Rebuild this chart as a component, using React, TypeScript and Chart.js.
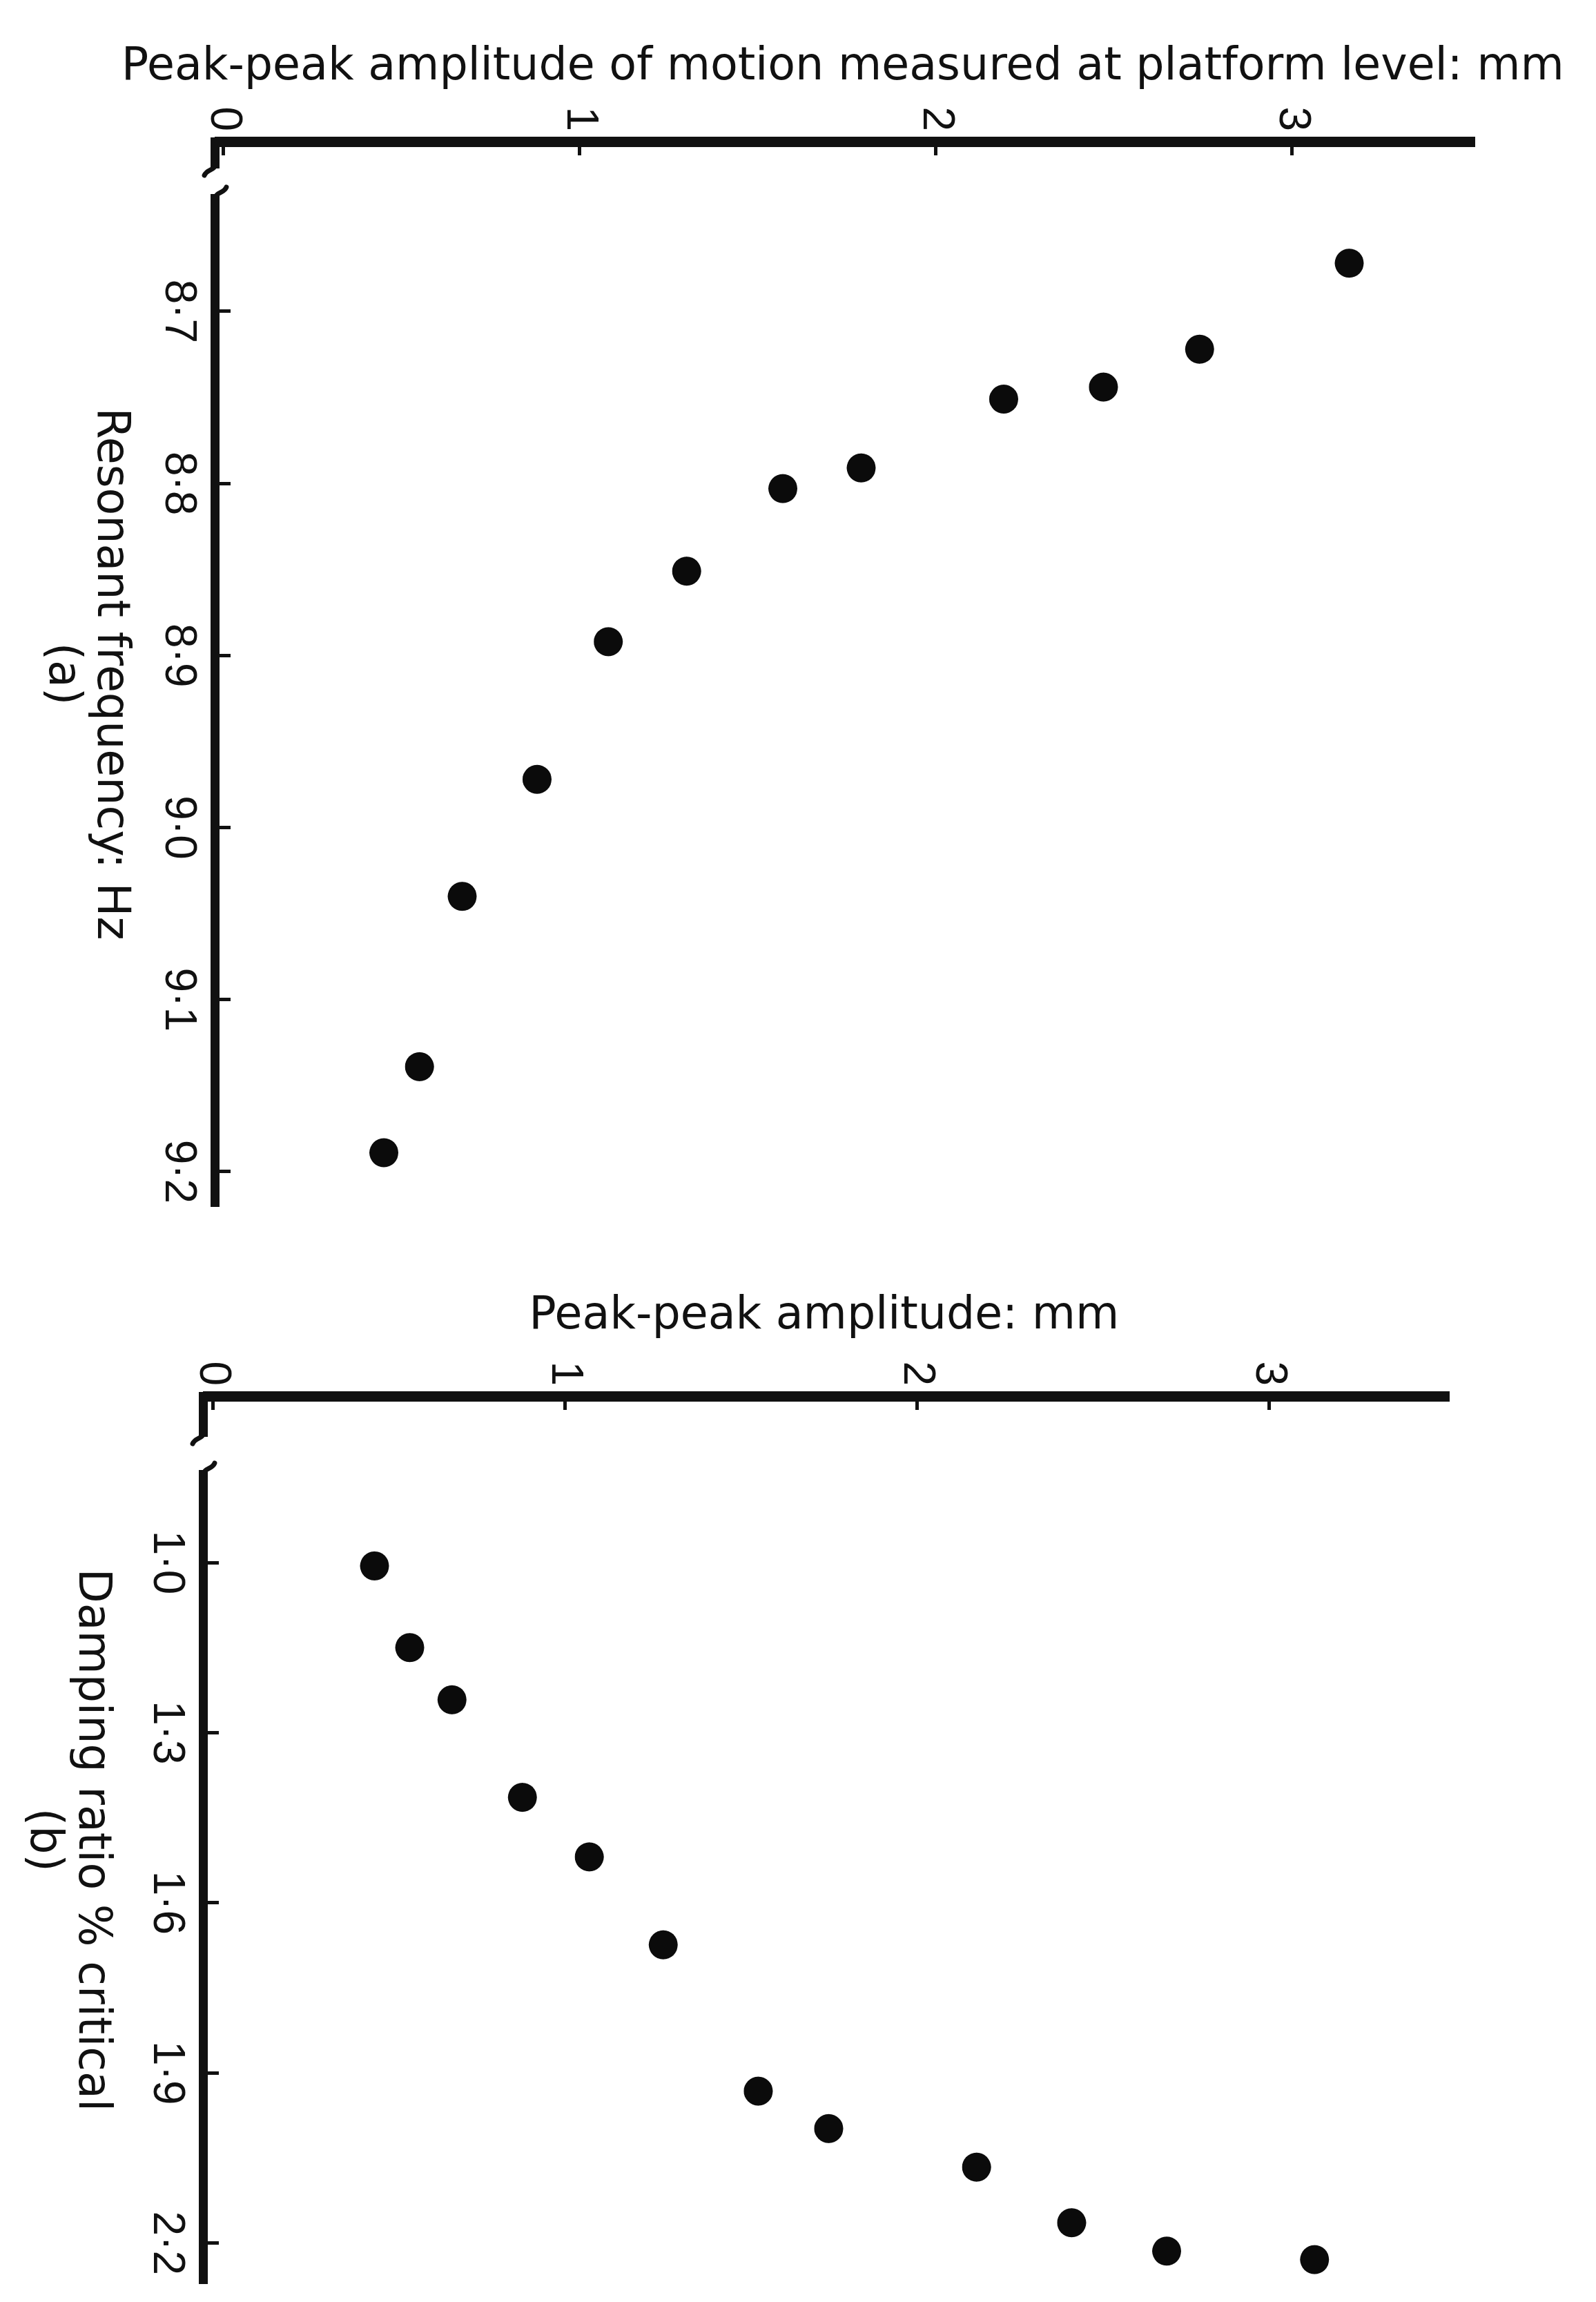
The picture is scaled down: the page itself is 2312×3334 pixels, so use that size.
import React, { useEffect, useRef } from 'react';
import { Chart, registerables } from 'chart.js';

Chart.register(...registerables);

// ---------- Panel (a): resonant frequency vs peak-peak amplitude ----------
const amplitudeA = [3.16, 2.74, 2.47, 2.19, 1.79, 1.57, 1.3, 1.08, 0.88, 0.67, 0.55, 0.45];
const frequencyA = [8.672, 8.722, 8.744, 8.751, 8.791, 8.803, 8.851, 8.892, 8.972, 9.04, 9.139, 9.189];
const freqTicks = [8.7, 8.8, 8.9, 9.0, 9.1, 9.2];
const freqTickLabels = ['8·7', '8·8', '8·9', '9·0', '9·1', '9·2'];

// ---------- Panel (b): damping ratio vs peak-peak amplitude ----------
const amplitudeB = [0.46, 0.56, 0.68, 0.88, 1.07, 1.28, 1.55, 1.75, 2.17, 2.44, 2.71, 3.13];
const dampingB = [1.006, 1.15, 1.242, 1.414, 1.519, 1.674, 1.932, 1.998, 2.066, 2.164, 2.214, 2.229];
const dampTicks = [1.0, 1.3, 1.6, 1.9, 2.2];
const dampTickLabels = ['1·0', '1·3', '1·6', '1·9', '2·2'];

// shared amplitude axis ticks
const ampTicks = [0, 1, 2, 3];
const ampTickLabels = ['0', '1', '2', '3'];

const titleA = 'Peak-peak amplitude of motion measured at platform level: mm';
const freqTitle = ['Resonant frequency: Hz', '(a)'];
const titleB = 'Peak-peak amplitude: mm';
const dampTitle = ['Damping ratio % critical', '(b)'];

const INK = '#111111';
const TITLE_FONT = "'DejaVu Sans', 'Liberation Sans', sans-serif";
const TICK_FONT = "'Liberation Sans', Arial, sans-serif";

function breakPlugin(gapStart: number, gapEnd: number) {
  return {
    id: 'axisBreak',
    afterDraw(chart: any) {
      const { ctx, chartArea } = chart;
      const y = chartArea.bottom;
      const x1 = chartArea.left + gapStart;
      const x2 = chartArea.left + gapEnd;
      ctx.save();
      ctx.fillStyle = '#ffffff';
      ctx.fillRect(x1 - 6, y - 12, x2 - x1 + 12, 24);
      ctx.strokeStyle = INK;
      ctx.lineWidth = 7;
      ctx.lineCap = 'round';
      ctx.beginPath();
      ctx.moveTo(x1 - 14, y);
      ctx.bezierCurveTo(x1 - 2, y, x1 - 6, y + 12, x1 + 4, y + 16);
      ctx.stroke();
      ctx.beginPath();
      ctx.moveTo(x2 + 14, y);
      ctx.bezierCurveTo(x2 + 2, y, x2 + 6, y - 12, x2 - 4, y - 16);
      ctx.stroke();
      ctx.restore();
    },
  };
}

type PanelOpts = {
  xs: number[];
  ys: number[];
  xMin: number;
  xMax: number;
  xTicks: number[];
  xTickLabels: string[];
  xTitle: string[];
  xTitlePad: number;
  yMin: number;
  yMax: number;
  yTitle: string;
  yTitlePad: number;
  yWidth: number;
  xHeight: number;
  padTop: number;
  padRight: number;
  gap: [number, number];
};

function buildConfig(p: PanelOpts): any {
  return {
    type: 'scatter',
    data: {
      datasets: [
        {
          data: p.xs.map((x, i) => ({ x, y: p.ys[i] })),
          backgroundColor: '#0b0b0b',
          borderWidth: 0,
          pointRadius: 21,
          pointHoverRadius: 21,
        },
      ],
    },
    options: {
      animation: false,
      responsive: false,
      devicePixelRatio: 1,
      events: [],
      layout: { padding: { left: 0, right: p.padRight, top: p.padTop, bottom: 0 } },
      plugins: { legend: { display: false }, tooltip: { enabled: false } },
      scales: {
        x: {
          type: 'linear',
          position: 'bottom',
          min: p.xMin,
          max: p.xMax,
          afterBuildTicks: (s: any) => {
            s.ticks = p.xTicks.map((v) => ({ value: v }));
          },
          afterFit: (s: any) => {
            s.height = p.xHeight;
          },
          ticks: {
            callback: (_v: any, i: number) => p.xTickLabels[i],
            autoSkip: false,
            maxRotation: 0,
            minRotation: 0,
            padding: 38,
            color: INK,
            font: { family: TICK_FONT, size: 64 },
          },
          grid: { drawOnChartArea: false, drawTicks: true, tickLength: -22, tickWidth: 5, color: INK },
          border: { display: true, width: 13, color: INK },
          title: {
            display: true,
            text: p.xTitle,
            color: INK,
            font: { family: TITLE_FONT, size: 65, lineHeight: 1.08 },
            padding: { top: 0, bottom: p.xTitlePad },
          },
        },
        y: {
          type: 'linear',
          position: 'left',
          min: p.yMin,
          max: p.yMax,
          afterBuildTicks: (s: any) => {
            s.ticks = ampTicks.map((v) => ({ value: v }));
          },
          afterFit: (s: any) => {
            s.width = p.yWidth;
          },
          ticks: {
            callback: (_v: any, i: number) => ampTickLabels[i],
            padding: 35,
            color: INK,
            font: { family: TICK_FONT, size: 64 },
          },
          grid: { drawOnChartArea: false, drawTicks: true, tickLength: -20, tickWidth: 5, color: INK },
          border: { display: true, width: 15, color: INK },
          title: {
            display: true,
            text: p.yTitle,
            color: INK,
            font: { family: TITLE_FONT, size: 65 },
            padding: { top: p.yTitlePad, bottom: 0 },
          },
        },
      },
    },
    plugins: [breakPlugin(p.gap[0], p.gap[1])],
  };
}

function RotatedChart(props: { w: number; h: number; tx: number; ty: number; opts: PanelOpts }) {
  const ref = useRef<HTMLCanvasElement | null>(null);
  useEffect(() => {
    if (!ref.current) return;
    const chart = new Chart(ref.current, buildConfig(props.opts));
    return () => chart.destroy();
  }, []);
  return (
    <canvas
      ref={ref}
      width={props.w}
      height={props.h}
      style={{
        position: 'absolute',
        left: 0,
        top: 0,
        width: props.w,
        height: props.h,
        transformOrigin: '0 0',
        transform: `translate(${props.tx}px, ${props.ty}px) rotate(90deg)`,
      }}
    />
  );
}

const panelA: PanelOpts = {
  xs: frequencyA,
  ys: amplitudeA,
  xMin: 8.6013,
  xMax: 9.2201,
  xTicks: freqTicks,
  xTickLabels: freqTickLabels,
  xTitle: freqTitle,
  xTitlePad: 82,
  yMin: -0.023,
  yMax: 3.5,
  yTitle: titleA,
  yTitlePad: 59,
  yWidth: 205,
  xHeight: 340,
  padTop: 182,
  padRight: 43,
  gap: [45, 70],
};

const panelB: PanelOpts = {
  xs: dampingB,
  ys: amplitudeB,
  xMin: 0.7066,
  xMax: 2.2716,
  xTicks: dampTicks,
  xTickLabels: dampTickLabels,
  xTitle: dampTitle,
  xTitlePad: 55,
  yMin: -0.0255,
  yMax: 3.5,
  yTitle: titleB,
  yTitlePad: 78,
  yWidth: 232,
  xHeight: 323,
  padTop: 219,
  padRight: 0,
  gap: [65, 101],
};

export default function App() {
  return (
    <div
      style={{
        position: 'absolute',
        left: 0,
        top: 0,
        width: 2312,
        height: 3334,
        overflow: 'hidden',
        background: '#ffffff',
      }}
    >
      <RotatedChart w={1790} h={2340} tx={2312} ty={0} opts={panelA} />
      <RotatedChart w={1544} h={2340} tx={2312} ty={1790} opts={panelB} />
    </div>
  );
}
